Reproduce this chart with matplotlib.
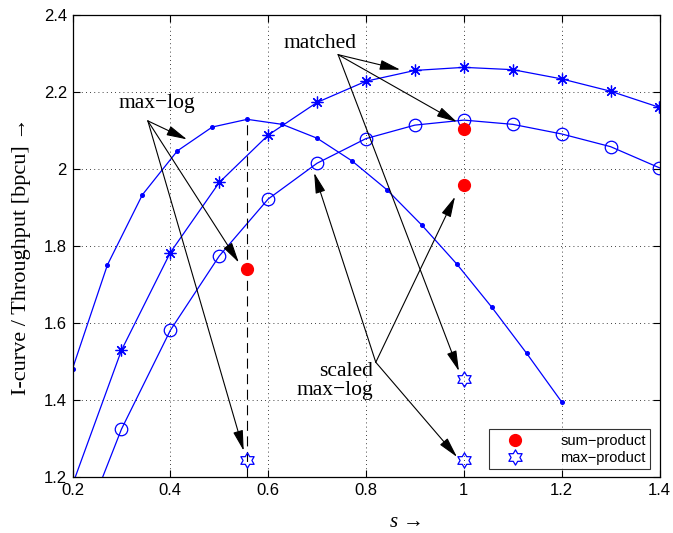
import numpy as np
import matplotlib
matplotlib.use("Agg")
import matplotlib.pyplot as plt
from matplotlib.path import Path
from matplotlib.lines import Line2D

plt.rcParams["mathtext.fontset"] = "custom"
plt.rcParams["mathtext.rm"] = "Liberation Serif"
plt.rcParams["mathtext.it"] = "Liberation Serif:italic"

# max-log curve (dots), s step = 1/14
s_maxlog = [0.2 + k / 14 for k in range(15)]
i_maxlog = [1.481, 1.751, 1.933, 2.047, 2.109, 2.129, 2.116, 2.080,
            2.021, 1.946, 1.854, 1.753, 1.641, 1.521, 1.395]

# matched curves
s_grid = [0.2, 0.3, 0.4, 0.5, 0.6, 0.7, 0.8, 0.9, 1.0, 1.1, 1.2, 1.3, 1.4]
i_star = [1.18, 1.529, 1.783, 1.965, 2.088, 2.173, 2.228, 2.256,
          2.264, 2.258, 2.234, 2.202, 2.160]
i_circle = [1.00, 1.324, 1.581, 1.774, 1.922, 2.015, 2.079, 2.114,
            2.127, 2.116, 2.091, 2.058, 2.003]

# throughput points
s_sum = [0.5571, 1.0, 1.0]
t_sum = [1.740, 2.103, 1.959]
s_max = [0.5571, 1.0, 1.0]
t_max = [1.243, 1.243, 1.455]

s_opt = 0.5571

# annotation arrows: (origin, target)
arrows = [
    ((0.354, 2.125), (0.434, 2.077)),
    ((0.354, 2.125), (0.540, 1.757)),
    ((0.354, 2.125), (0.550, 1.268)),
    ((0.743, 2.297), (0.870, 2.258)),
    ((0.743, 2.297), (0.986, 2.122)),
    ((0.743, 2.297), (0.990, 1.475)),
    ((0.820, 1.498), (0.694, 1.990)),
    ((0.820, 1.498), (0.982, 1.928)),
    ((0.820, 1.498), (0.986, 1.252)),
]

# hexagram marker
ang_out = np.deg2rad(90 + 60 * np.arange(6))
ang_in = ang_out + np.deg2rad(30)
r_in = 1 / np.sqrt(3)
verts = []
for ao, ai in zip(ang_out, ang_in):
    verts.append((np.cos(ao), np.sin(ao)))
    verts.append((r_in * np.cos(ai), r_in * np.sin(ai)))
verts.append(verts[0])
hexagram = Path(verts, closed=True)

serif = "Liberation Serif"
sans = "Liberation Sans"

fig = plt.figure(figsize=(6.73, 5.33), dpi=100)
ax = fig.add_axes([72.5 / 673, 56 / 533, 587 / 673, 462 / 533])

blue = "#0000ff"
ax.plot(s_maxlog, i_maxlog, color=blue, lw=0.9, marker="o", ms=2.6,
        mfc=blue, mec=blue)
ax.plot(s_grid, i_star, color=blue, lw=0.9, marker=(8, 2, 0), ms=8.5,
        mec=blue, mew=0.9)
ax.plot(s_grid, i_circle, color=blue, lw=0.9, marker="o", ms=9,
        mfc="none", mec=blue, mew=0.9)

ax.plot([s_opt, s_opt], [1.2, max(i_maxlog)], color="k", lw=0.8,
        linestyle=(0, (9, 5)))

ax.plot(s_sum, t_sum, linestyle="none", marker="o", ms=8.5,
        mfc="#ff0000", mec="#ff0000", zorder=5)
ax.plot(s_max, t_max, linestyle="none", marker=hexagram, ms=11,
        mfc="none", mec=blue, mew=0.9, zorder=5)

for origin, target in arrows:
    ax.annotate("", xy=target, xytext=origin,
                arrowprops=dict(arrowstyle="-|>,head_length=0.9,head_width=0.22",
                                color="k", lw=0.8, mutation_scale=14,
                                shrinkA=0, shrinkB=0))

ax.text(0.373, 2.171, "max\u2212log", family=serif, fontsize=15.5,
        ha="center", va="center")
ax.text(0.706, 2.327, "matched", family=serif, fontsize=15.5,
        ha="center", va="center")
ax.text(0.815, 1.475, "scaled", family=serif, fontsize=15.5,
        ha="right", va="center")
ax.text(0.815, 1.425, "max\u2212log", family=serif, fontsize=15.5,
        ha="right", va="center")

ax.set_xlim(0.2, 1.4)
ax.set_ylim(1.2, 2.4)
ax.set_xticks(np.arange(0.2, 1.41, 0.2))
ax.set_yticks(np.arange(1.2, 2.41, 0.2))
ax.set_xticklabels(["0.2", "0.4", "0.6", "0.8", "1", "1.2", "1.4"])
ax.set_yticklabels(["1.2", "1.4", "1.6", "1.8", "2", "2.2", "2.4"])
ax.tick_params(direction="in", length=5, width=0.8, top=True, right=True,
               labelsize=12, pad=4)
for lab in ax.get_xticklabels() + ax.get_yticklabels():
    lab.set_family(sans)
ax.grid(True, color="k", linestyle=(0, (1, 4)), lw=0.6)
for sp in ax.spines.values():
    sp.set_linewidth(0.9)

ax.set_xlabel("$s$ \u2192", family=serif, fontsize=15)
ax.xaxis.set_label_coords(0.566, -0.078)
ax.set_ylabel("I-curve / Throughput [bpcu] \u2192", family=serif, fontsize=16)
ax.yaxis.set_label_coords(-0.071, 0.478)

handles = [
    Line2D([], [], linestyle="none", marker="o", ms=8.5, mfc="#ff0000",
           mec="#ff0000"),
    Line2D([], [], linestyle="none", marker=hexagram, ms=11, mfc="none",
           mec=blue, mew=0.9),
]
leg = ax.legend(handles, ["sum\u2212product", "max\u2212product"],
                loc="lower right", bbox_to_anchor=(0.984, 0.017),
                prop={"family": sans, "size": 10.5}, frameon=True,
                fancybox=False, edgecolor="k", handlelength=3.0,
                handletextpad=1.6, borderpad=0.3, labelspacing=0.2,
                borderaxespad=0)
leg.get_frame().set_linewidth(0.8)

fig.savefig("out.png", dpi=100)
